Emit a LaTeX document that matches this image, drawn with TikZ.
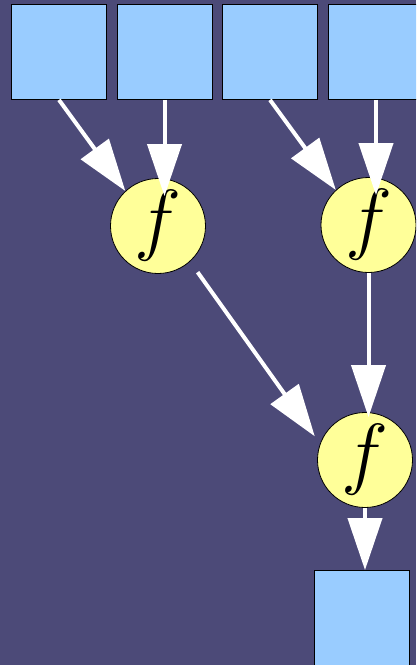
\documentclass[tikz,border=0pt]{standalone}
\usepackage{graphicx}
\usetikzlibrary{arrows.meta}
\definecolor{slate}{RGB}{76,74,120}
\definecolor{cellblue}{HTML}{99CCFF}
\definecolor{funcyellow}{HTML}{FFFF99}

\begin{document}
\begin{tikzpicture}[x=1pt, y=-1pt,
    cell/.style={draw=black, line width=0.8pt, fill=cellblue, minimum size=95pt, inner sep=0pt},
    func/.style={circle, draw=black, line width=0.8pt, fill=funcyellow, minimum size=95pt, inner sep=0pt},
    flow/.style={white, line width=4pt, -{Triangle[length=52pt, width=34pt]}}]
  \useasboundingbox (0,0) rectangle (416,665);
  \fill[slate] (0,0) rectangle (416,665);
  \clip (0,0) rectangle (416,665);

  % inputs along the top
  \foreach \x [count=\i] in {59,164.5,270,376}
    \node[cell] (in\i) at (\x,52) {};

  \node[func] (f1) at (158,226) {\scalebox{3.2}{\Huge$f$}};
  \node[func] (f2) at (368.5,225) {\scalebox{3.2}{\Huge$f$}};
  \node[func] (f3) at (365,460) {\scalebox{3.2}{\Huge$f$}};

  \node[cell] (out) at (361.5,618) {};

  \draw[flow] (in1.south) -- (f1.133);
  \draw[flow, shorten >=-18pt] (in2.south) -- (in2.south |- f1.north);
  \draw[flow] (in3.south) -- (f2.133);
  \draw[flow, shorten >=-18pt] (in4.south) -- (in4.south |- f2.north);
  \draw[flow, shorten <=13pt, shorten >=9pt] (f1.-48) -- (f3.160);
  \draw[flow, shorten >=-5pt] (f2.south) -- (f2.south |- f3.north);
  \draw[flow] (f3.south) -- (f3.south |- out.north);
\end{tikzpicture}
\end{document}
